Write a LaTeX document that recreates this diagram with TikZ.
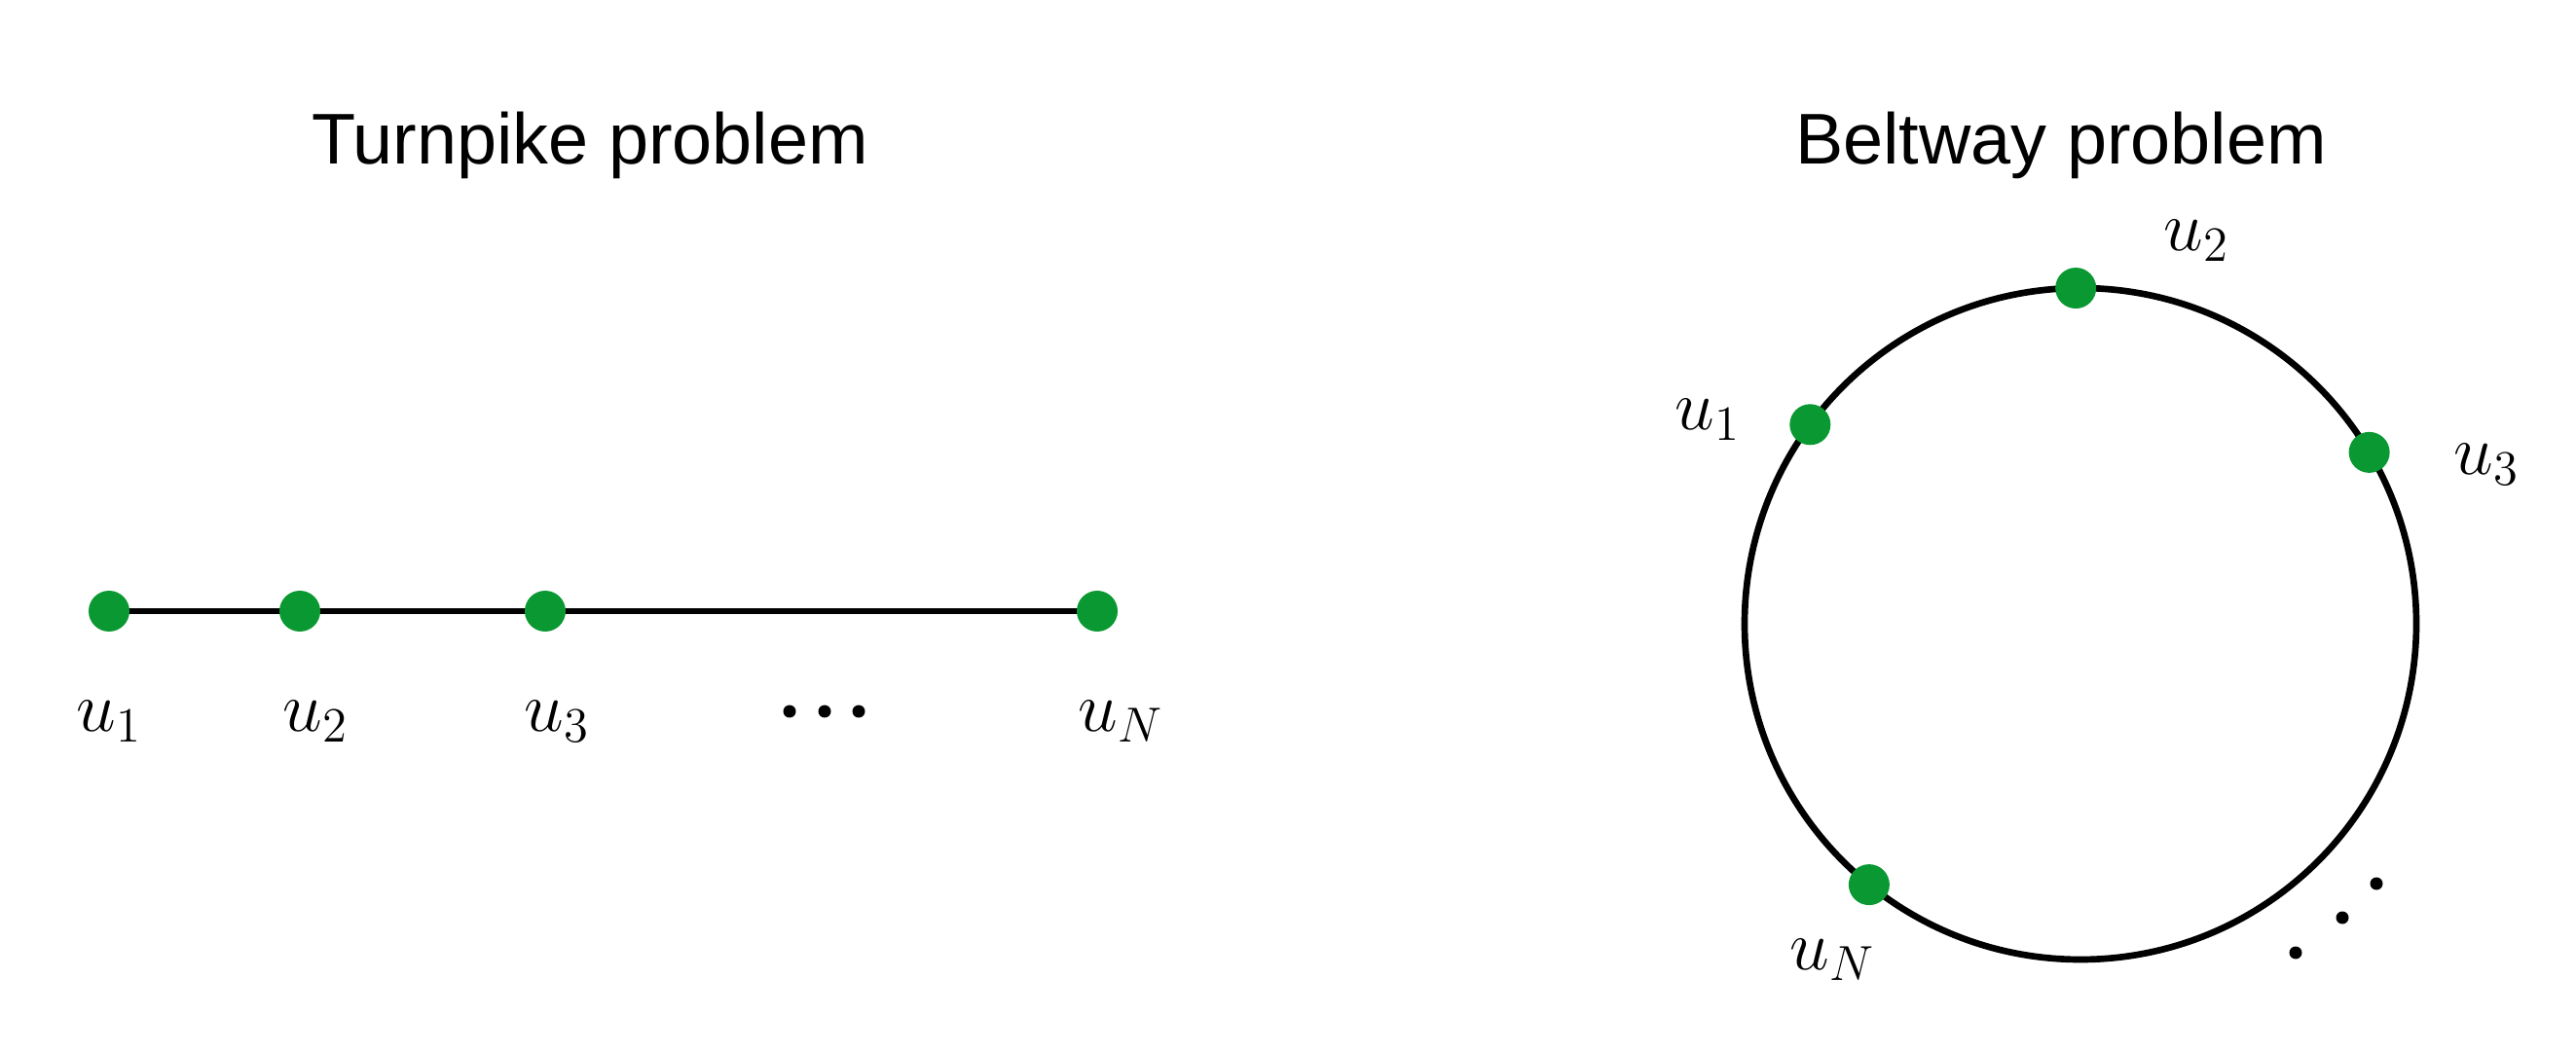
\documentclass[tikz,border=0pt]{standalone}
\usepackage{fontspec}
\setmainfont{Liberation Sans}
\usetikzlibrary{calc,backgrounds}
\definecolor{ptgreen}{RGB}{9,152,49}

\begin{document}
\begin{tikzpicture}[
    pt/.style={circle,fill=ptgreen,inner sep=0pt,minimum size=4.2mm},
    lab/.style={inner sep=0pt,anchor=base west,font=\fontsize{21.7}{26}\selectfont},
    ttl/.style={inner sep=0pt,anchor=base,font=\fontsize{21}{25}\selectfont},
    road/.style={line width=1.9pt}]
  \useasboundingbox (0,0) rectangle (26.46,10.79);

  % turnpike: points on a line
  \node[ttl] (ttlT) at (6.06,9.10) {Turnpike problem};
  \foreach \n/\x/\lx in {1/1.12/0.78, 2/3.08/2.90, 3/5.60/5.38, N/11.27/11.07}
  {
    \node[pt] (t\n) at (\x,4.51) {};
    \node[lab] (tl\n) at (\lx,3.27) {$u_{\n}$};
  }
  \begin{scope}[on background layer]
    \draw[road] (t1.center) -- (tN.center);
  \end{scope}
  \foreach \x in {8.11,8.47,8.82}
    \fill (\x,3.48) circle (0.065);

  % beltway: points on a circle
  \node[ttl] (ttlB) at (21.17,9.10) {Beltway problem};
  \coordinate (c) at (21.37,4.38);
  \draw[road] (c) circle (3.45);
  \foreach \n/\a/\lx/\ly in {1/143.6/17.20/6.37, 2/90.8/22.22/8.21, 3/30.7/25.20/5.91, N/231/18.38/0.82}
  {
    \node[pt] (b\n) at ($(c)+(\a:3.45)$) {};
    \node[lab] (bl\n) at (\lx,\ly) {$u_{\n}$};
  }
  \foreach \x/\y in {23.58/1.00, 24.06/1.36, 24.41/1.71}
    \fill (\x,\y) circle (0.065);
\end{tikzpicture}
\end{document}
